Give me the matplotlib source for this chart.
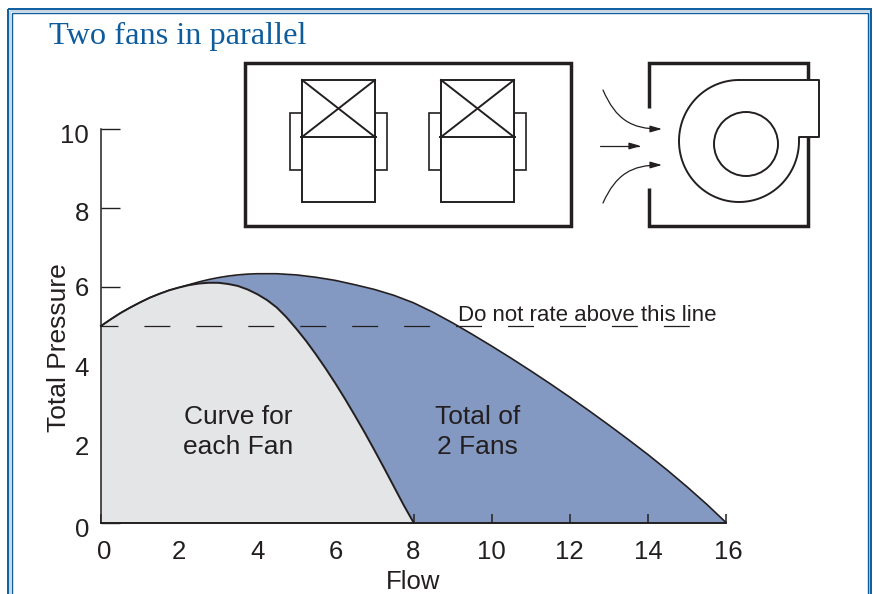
import numpy as np
import matplotlib
matplotlib.use('Agg')
import matplotlib.pyplot as plt
from matplotlib.patches import Rectangle, Circle, FancyArrowPatch
from matplotlib.path import Path
from matplotlib.transforms import ScaledTranslation

plt.rcParams['font.family'] = ['Liberation Sans', 'DejaVu Sans']
plt.rcParams['lines.scale_dashes'] = False

# values
flow_fan = [0, 0.25, 0.5, 0.75, 1, 1.25, 1.5, 1.75, 2, 2.25, 2.5, 2.75, 3, 3.25, 3.5, 3.75, 4, 4.25, 4.5, 4.75,
            5, 5.25, 5.5, 5.75, 6, 6.25, 6.5, 6.75, 7, 7.25, 7.5, 7.75, 8]
pressure_fan = [5.0, 5.17, 5.33, 5.47, 5.6, 5.72, 5.82, 5.91, 5.98, 6.04, 6.08, 6.1, 6.1, 6.07, 6.02, 5.93, 5.81, 5.66, 5.47, 5.22,
                4.93, 4.62, 4.28, 3.92, 3.54, 3.14, 2.72, 2.29, 1.84, 1.38, 0.91, 0.44, 0]
flow_total = [0, 0.25, 0.5, 0.75, 1, 1.25, 1.5, 1.75, 2, 2.25, 2.5, 2.75, 3, 3.25, 3.5, 3.75, 4, 4.5, 5, 5.5,
              6, 6.5, 7, 7.5, 8, 8.5, 9, 9.5, 10, 10.5, 11, 11.5, 12, 12.5, 13, 13.5, 14, 14.5, 15, 15.5, 16]
pressure_total = [5.0, 5.17, 5.33, 5.47, 5.6, 5.72, 5.82, 5.91, 5.98, 6.05, 6.12, 6.18, 6.23, 6.27, 6.3, 6.32, 6.33, 6.33, 6.3, 6.24,
                  6.16, 6.05, 5.93, 5.78, 5.59, 5.35, 5.08, 4.79, 4.49, 4.18, 3.86, 3.53, 3.19, 2.84, 2.48, 2.11, 1.73, 1.33, 0.91, 0.47, 0]
x_ticks = [0, 2, 4, 6, 8, 10, 12, 14, 16]
y_ticks = [0, 2, 4, 6, 8, 10]
rating_flow = [0, 15.1]
rating_pressure = [5, 5]

ink = '#231f20'
blue = '#0f5c9c'

fig = plt.figure(figsize=(8.73, 5.94), dpi=100, facecolor='white')

# chart
ax = fig.add_axes([101 / 873, (594 - 522.5) / 594, 625 / 873, 393 / 594])
ax.patch.set_alpha(0)
ax.fill_between(flow_total, pressure_total, 0, color='#8499c1', lw=0, zorder=1)
ax.plot(flow_total, pressure_total, color=ink, lw=1.2, zorder=2, clip_on=False)
ax.fill_between(flow_fan, pressure_fan, 0, color='#e4e5e7', lw=0, zorder=3)
ax.plot(flow_fan, pressure_fan, color=ink, lw=1.4, zorder=4, clip_on=False)
ax.plot(rating_flow, rating_pressure, color=ink, lw=0.9, ls=(6.5, (18.7, 18.7)), dash_capstyle='butt',
        zorder=5, clip_on=False)

ax.set_xlim(0, 16)
ax.set_ylim(0, 10)
ax.set_xticks(x_ticks)
ax.set_yticks(y_ticks)
ax.spines['top'].set_visible(False)
ax.spines['right'].set_visible(False)
ax.spines['left'].set_linewidth(1.1)
ax.spines['bottom'].set_linewidth(1.4)
ax.spines['left'].set_color(ink)
ax.spines['bottom'].set_color(ink)
ax.spines['left'].set_zorder(6)
ax.spines['bottom'].set_zorder(6)
ax.tick_params(axis='y', direction='in', length=14, width=1.0, pad=8.5, labelsize=18.5, labelcolor=ink, color=ink)
ax.tick_params(axis='x', direction='in', length=6.5, width=1.1, pad=12.5, labelsize=18.5, labelcolor=ink, color=ink)
# the printed labels sit a little unevenly, nudge them (px)
for lab, dy in zip(ax.get_yticklabels(), [5, 2, 1, 0, 3, 4]):
    lab.set_transform(lab.get_transform() + ScaledTranslation(0, -dy / 100, fig.dpi_scale_trans))
xlabs = ax.get_xticklabels()
for lab, dx in [(xlabs[0], 3), (xlabs[-1], 2)]:
    lab.set_transform(lab.get_transform() + ScaledTranslation(dx / 100, 0, fig.dpi_scale_trans))
ax.set_xlabel('Flow', fontsize=18.5, color=ink)
ax.xaxis.set_label_coords(0.499, -0.151)
ax.xaxis.label.set_va('center')
ax.set_ylabel('Total Pressure', fontsize=19, color=ink)
ax.yaxis.set_label_coords(-0.0665, 0.444)
ax.yaxis.label.set_va('center')

ax.text(3.52, 2.3, 'Curve for\neach Fan', fontsize=19, color=ink, ha='center', va='center', zorder=7, linespacing=1.3)
ax.text(9.63, 2.3, 'Total of\n2 Fans', fontsize=19, color=ink, ha='center', va='center', zorder=7, linespacing=1.3)
ax.text(9.13, 5.27, 'Do not rate above this line', fontsize=16, color=ink, ha='left', va='center', zorder=7)

# overlay in pixel coordinates for the frame and the fan sketches
over = fig.add_axes([0, 0, 1, 1])
over.set_xlim(0, 873)
over.set_ylim(594, 0)
over.axis('off')
over.patch.set_alpha(0)

# double frame, runs off the bottom
over.add_patch(Rectangle((10, 10.5), 859.5, 600, fill=False, ec='#c6d8e8', lw=1.6))
over.add_patch(Rectangle((8.3, 9), 862.7, 600, fill=False, ec=blue, lw=1.4))
over.add_patch(Rectangle((12, 12.5), 856, 600, fill=False, ec=blue, lw=1.0))
fig.text(49 / 873, 1 - 36 / 594, 'Two fans in parallel', fontsize=23.3, color=blue, family='Liberation Serif', ha='left', va='center')

# plan view: box and two fans
over.add_patch(Rectangle((245, 63), 326, 163, fill=False, ec=ink, lw=2.5))
for fx in [302, 441]:
    over.add_patch(Rectangle((fx - 12, 113), 12, 57, fill=False, ec=ink, lw=1.2))
    over.add_patch(Rectangle((fx + 73, 113), 12, 57, fill=False, ec=ink, lw=1.2))
    over.add_patch(Rectangle((fx, 80), 73, 122, fc='white', ec=ink, lw=1.4))
    over.plot([fx - 1, fx + 74], [137, 137], color=ink, lw=1.4)
    over.plot([fx, fx + 73], [80, 137], color=ink, lw=1.4)
    over.plot([fx, fx + 73], [137, 80], color=ink, lw=1.4)

# side view: box with opening
over.plot([649, 649, 808, 808], [108, 63, 63, 80], color=ink, lw=2.5, solid_joinstyle='miter', solid_capstyle='butt')
over.plot([808, 808, 649, 649], [137, 226, 226, 188], color=ink, lw=2.5, solid_joinstyle='miter', solid_capstyle='butt')

# blower scroll
ang = np.radians(np.linspace(90, 360, 90))
scroll_x = 739 + 60 * np.cos(ang)
scroll_y = 141 - 61 * np.sin(ang)
over.plot(list(scroll_x) + [799, 819, 819, 739], list(scroll_y) + [137, 137, 80, 80], color=ink, lw=1.4)
over.add_patch(Circle((746, 144), 32, fill=False, ec=ink, lw=1.4))

# inlet arrows
arrow_paths = [
    Path([(603, 90), (616, 120), (632, 129), (662, 129)], [Path.MOVETO, Path.CURVE4, Path.CURVE4, Path.CURVE4]),
    Path([(600, 146), (641, 146)], [Path.MOVETO, Path.LINETO]),
    Path([(603, 203), (616, 174), (632, 165), (662, 165)], [Path.MOVETO, Path.CURVE4, Path.CURVE4, Path.CURVE4]),
]
for p in arrow_paths:
    over.add_patch(FancyArrowPatch(path=p, arrowstyle='-|>,head_length=0.7,head_width=0.2', mutation_scale=10,
                                   color=ink, lw=0.9))

fig.savefig('out.png', dpi=100)
